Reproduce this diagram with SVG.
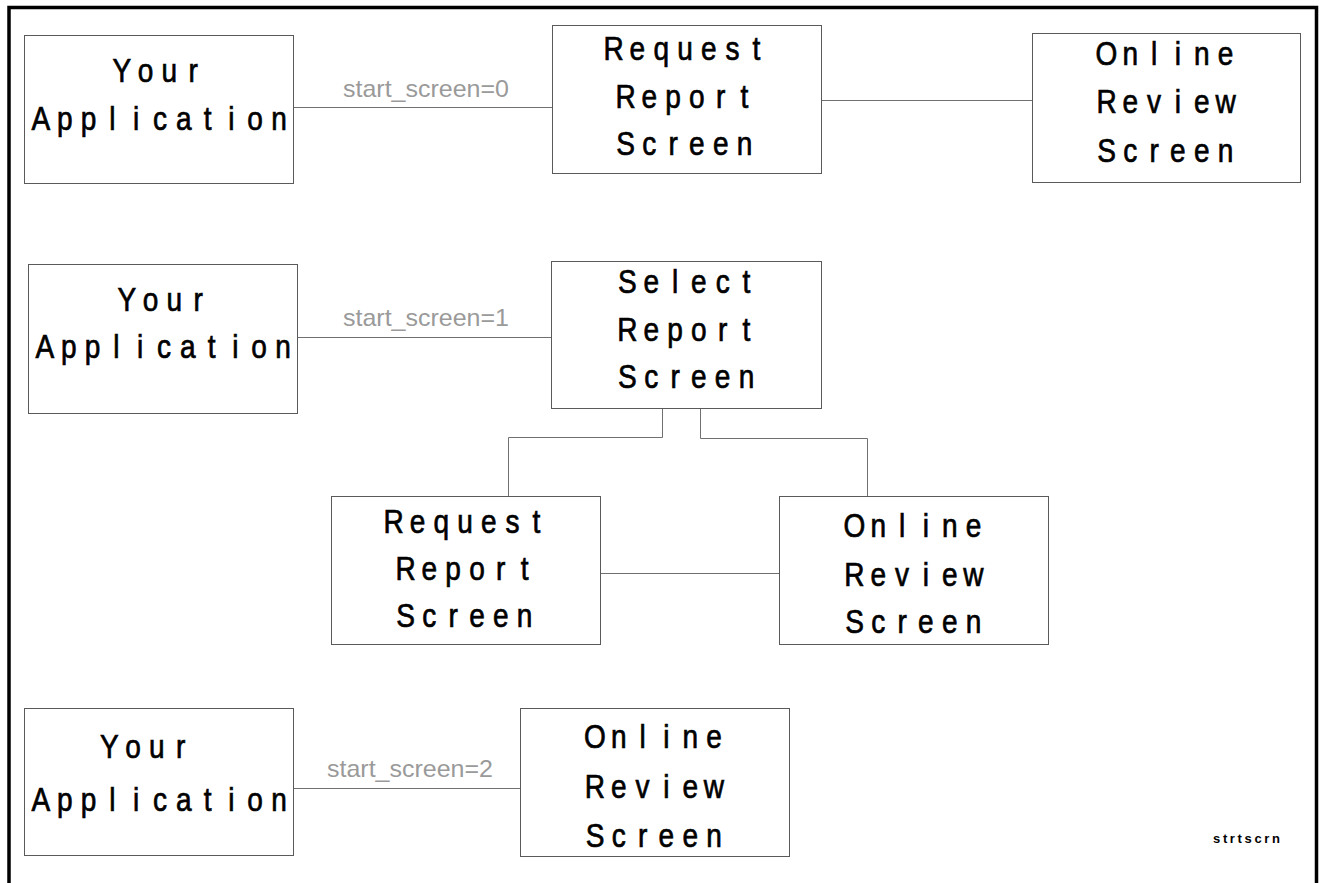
<svg xmlns="http://www.w3.org/2000/svg" width="1322" height="883" viewBox="0 0 1322 883">
<style>
.box{fill:#fff;stroke:#5a5a5a;stroke-width:1}
.con{fill:none;stroke:#707070;stroke-width:1}
.t{font-family:"Liberation Sans",Arial,sans-serif;font-size:33px;fill:#000;stroke:#000;stroke-width:0.7;text-anchor:middle}
.lbl{font-family:"Liberation Sans",Arial,sans-serif;font-size:24px;fill:#9a9a9a}
.tag{font-family:"Liberation Sans",Arial,sans-serif;font-size:13px;font-weight:bold;fill:#000}
</style>
<rect width="1322" height="883" fill="#fff"/>
<path d="M9,883 V7.5 H1316.5 V883" fill="none" stroke="#000" stroke-width="3.5"/>
<g id="connectors">
<path class="con" d="M293.5,107.5 H552.5"/>
<path class="con" d="M821.5,100.5 H1032.5"/>
<path class="con" d="M297.5,337.5 H551.5"/>
<path class="con" d="M662.5,408.5 V437.5 H508.5 V496.5"/>
<path class="con" d="M700.5,408.5 V438.5 H867.5 V496.5"/>
<path class="con" d="M600.5,573.5 H779.5"/>
<path class="con" d="M293.5,788.5 H520.5"/>
<text class="lbl" x="343" y="97" textLength="166" lengthAdjust="spacingAndGlyphs">start_screen=0</text>
<text class="lbl" x="343" y="326" textLength="166" lengthAdjust="spacingAndGlyphs">start_screen=1</text>
<text class="lbl" x="327" y="777" textLength="166" lengthAdjust="spacingAndGlyphs">start_screen=2</text>
</g>
<g id="app1">
<rect class="box" x="24.5" y="35.5" width="269" height="148"/>
<text class="t" transform="scale(0.85 1)" x="143.3 171.3 199.3 227.3" y="82">Your</text>
<text class="t" transform="scale(0.85 1)" x="48.2 76.2 104.2 132.2 160.2 188.2 216.2 244.2 272.2 300.2 328.2" y="130">Application</text>
</g>
<g id="request1">
<rect class="box" x="552.5" y="25.5" width="269" height="148"/>
<text class="t" transform="scale(0.85 1)" x="721.9 749.9 777.9 805.9 833.9 861.9 889.9" y="60">Request</text>
<text class="t" transform="scale(0.85 1)" x="735.9 763.9 791.9 819.9 847.9 875.9" y="108">Report</text>
<text class="t" transform="scale(0.85 1)" x="735.9 763.9 791.9 819.9 847.9 875.9" y="155">Screen</text>
</g>
<g id="online1">
<rect class="box" x="1032.5" y="33.5" width="268" height="149"/>
<text class="t" transform="scale(0.85 1)" x="1301.8 1329.8 1357.8 1385.8 1413.8 1441.8" y="65">Online</text>
<text class="t" transform="scale(0.85 1)" x="1301.8 1329.8 1357.8 1385.8 1413.8 1441.8" y="113">Review</text>
<text class="t" transform="scale(0.85 1)" x="1301.8 1329.8 1357.8 1385.8 1413.8 1441.8" y="162">Screen</text>
</g>
<g id="app2">
<rect class="box" x="28.5" y="264.5" width="269" height="149"/>
<text class="t" transform="scale(0.85 1)" x="149.2 177.2 205.2 233.2" y="311">Your</text>
<text class="t" transform="scale(0.85 1)" x="52.9 80.9 108.9 136.9 164.9 192.9 220.9 248.9 276.9 304.9 332.9" y="358">Application</text>
</g>
<g id="select">
<rect class="box" x="551.5" y="261.5" width="270" height="147"/>
<text class="t" transform="scale(0.85 1)" x="738.2 766.2 794.2 822.2 850.2 878.2" y="293">Select</text>
<text class="t" transform="scale(0.85 1)" x="738.2 766.2 794.2 822.2 850.2 878.2" y="341">Report</text>
<text class="t" transform="scale(0.85 1)" x="738.2 766.2 794.2 822.2 850.2 878.2" y="388">Screen</text>
</g>
<g id="request2">
<rect class="box" x="331.5" y="496.5" width="269" height="148"/>
<text class="t" transform="scale(0.85 1)" x="463.1 491.1 519.1 547.1 575.1 603.1 631.1" y="533">Request</text>
<text class="t" transform="scale(0.85 1)" x="477.1 505.1 533.1 561.1 589.1 617.1" y="580">Report</text>
<text class="t" transform="scale(0.85 1)" x="477.1 505.1 533.1 561.1 589.1 617.1" y="627">Screen</text>
</g>
<g id="online2">
<rect class="box" x="779.5" y="496.5" width="269" height="148"/>
<text class="t" transform="scale(0.85 1)" x="1005.3 1033.3 1061.3 1089.3 1117.3 1145.3" y="537">Online</text>
<text class="t" transform="scale(0.85 1)" x="1005.3 1033.3 1061.3 1089.3 1117.3 1145.3" y="586">Review</text>
<text class="t" transform="scale(0.85 1)" x="1005.3 1033.3 1061.3 1089.3 1117.3 1145.3" y="633">Screen</text>
</g>
<g id="app3">
<rect class="box" x="24.5" y="708.5" width="269" height="147"/>
<text class="t" transform="scale(0.85 1)" x="128.6 156.6 184.6 212.6" y="758">Your</text>
<text class="t" transform="scale(0.85 1)" x="48.2 76.2 104.2 132.2 160.2 188.2 216.2 244.2 272.2 300.2 328.2" y="811">Application</text>
</g>
<g id="online3">
<rect class="box" x="520.5" y="708.5" width="269" height="148"/>
<text class="t" transform="scale(0.85 1)" x="700 728 756 784 812 840" y="748">Online</text>
<text class="t" transform="scale(0.85 1)" x="700 728 756 784 812 840" y="798">Review</text>
<text class="t" transform="scale(0.85 1)" x="700 728 756 784 812 840" y="847">Screen</text>
</g>
<text class="tag" x="1213" y="843" textLength="67">strtscrn</text>
</svg>
